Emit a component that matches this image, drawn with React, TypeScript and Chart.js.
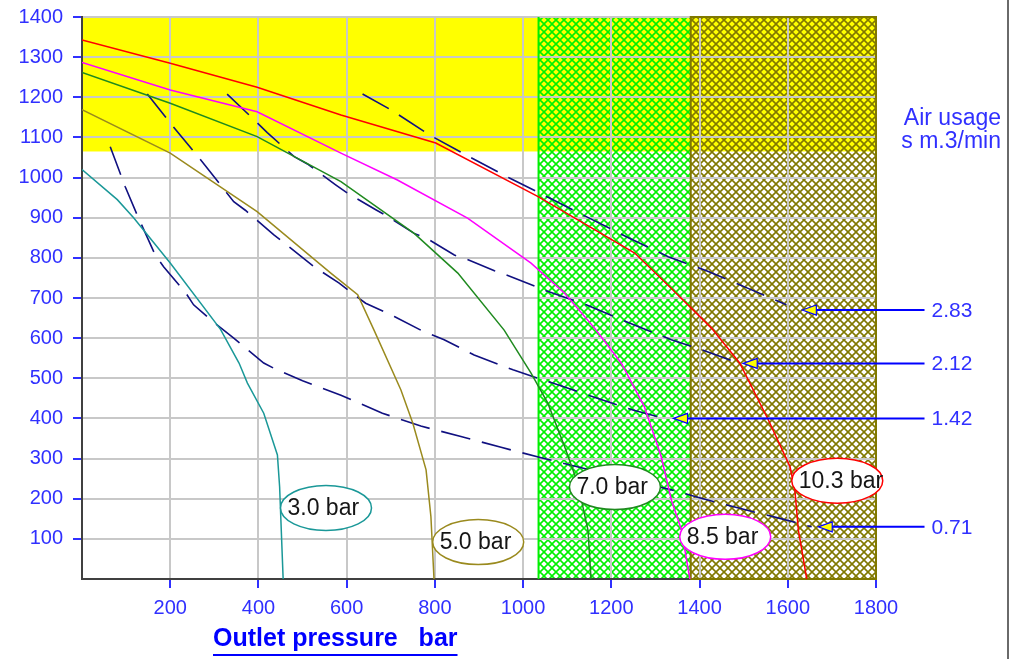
import React, { useEffect, useRef } from "react";
import { Chart, registerables } from "chart.js";

Chart.register(...registerables);

const FONT = '"Liberation Sans", Arial, Helvetica, sans-serif';

// ---- axes ----
const xTickValues = [200, 400, 600, 800, 1000, 1200, 1400, 1600, 1800];
const yTickValues = [100, 200, 300, 400, 500, 600, 700, 800, 900, 1000, 1100, 1200, 1300, 1400];
const xRange = [0, 1800];
const yRange = [0, 1400];

// ---- shaded zones ----
const yellowZoneY = [1065, 1400];
const greenZoneX = [1035, 1380];
const oliveZoneX = [1380, 1800];

// ---- pressure curves ----
const p30X = [0, 80, 117, 200, 314, 356, 375, 412, 443, 448, 456];
const p30Y = [1020, 945, 900, 787, 622, 538, 488, 413, 309, 230, 0];

const p50X = [0, 200, 397, 564, 625, 662, 723, 750, 780, 791, 798];
const p50Y = [1169, 1061, 915, 762, 708, 620, 471, 388, 272, 155, 0];

const p70X = [0, 200, 397, 587, 753, 852, 957, 1018, 1056, 1094, 1124, 1147, 1154];
const p70Y = [1262, 1185, 1102, 990, 861, 762, 620, 513, 438, 330, 238, 122, 0];

const p85X = [0, 200, 397, 587, 715, 874, 1018, 1094, 1162, 1223, 1275, 1313, 1336, 1359, 1378];
const p85Y = [1287, 1218, 1164, 1061, 994, 899, 787, 712, 625, 537, 429, 305, 197, 122, 0];

const p103X = [0, 200, 397, 587, 802, 1033, 1253, 1332, 1427, 1491, 1556, 1605, 1616, 1624, 1643];
const p103Y = [1343, 1285, 1225, 1156, 1086, 953, 812, 728, 625, 538, 396, 280, 222, 122, 0];

const curveNames = ["3.0 bar", "5.0 bar", "7.0 bar", "8.5 bar", "10.3 bar"];
const curveColors = ["#1a9898", "#9a8a1e", "#1f8a1f", "#ff00ff", "#ff0000"];
const labelLeftX = [450, 795, 1105, 1355, 1609];
const labelY = [177, 92, 229, 105, 245];

// ---- air usage (dashed) lines ----
const a071X = [64, 98, 125, 166, 185, 235, 253, 298, 344, 412, 435, 500, 587, 681, 768, 859, 950, 1041, 1132, 1336, 1404, 1491, 1582, 1654];
const a071Y = [1077, 977, 907, 807, 778, 713, 683, 640, 600, 538, 525, 494, 458, 413, 381, 355, 328, 302, 277, 222, 201, 176, 151, 130];

const a142X = [148, 200, 272, 344, 371, 435, 462, 526, 583, 617, 643, 708, 768, 821, 889, 977, 1067, 1158, 1249, 1321];
const a142Y = [1208, 1136, 1040, 940, 918, 857, 834, 778, 737, 708, 687, 654, 620, 596, 558, 521, 488, 454, 421, 400];

const a212X = [329, 394, 420, 481, 511, 575, 602, 666, 693, 753, 784, 844, 871, 935, 961, 1026, 1052, 1143, 1234, 1336, 1408, 1480];
const a212Y = [1208, 1140, 1112, 1052, 1034, 982, 961, 920, 903, 861, 847, 807, 797, 768, 758, 730, 718, 683, 641, 596, 570, 541];

const a283X = [636, 700, 791, 878, 969, 1060, 1150, 1241, 1329, 1420, 1510, 1597];
const a283Y = [1208, 1169, 1104, 1052, 999, 949, 899, 849, 803, 766, 724, 683];

const airLabels = ["2.83", "2.12", "1.42", "0.71"];
const airArrowY = [670, 537, 400, 130];
const airArrowTipX = [1633, 1499, 1341, 1669];
const airArrowEndX = 1910;
const airLabelX = 1926;

const TICK_BLUE = "#3030ff";

function pts(xs: number[], ys: number[]) {
  return xs.map((x, i) => ({ x, y: ys[i] }));
}

function makeHatch(ctx: CanvasRenderingContext2D, color: string) {
  const c = document.createElement("canvas");
  c.width = 8;
  c.height = 8;
  const g = c.getContext("2d") as CanvasRenderingContext2D;
  g.strokeStyle = color;
  g.lineWidth = 1.6;
  g.beginPath();
  g.moveTo(-2, -2);
  g.lineTo(10, 10);
  g.moveTo(10, -2);
  g.lineTo(-2, 10);
  g.stroke();
  return ctx.createPattern(c, "repeat");
}

const overlayPlugin = {
  id: "overlay",
  beforeDraw(chart: any) {
    const { ctx, scales } = chart;
    const xs = scales.x;
    const ys = scales.y;
    const x0 = xs.getPixelForValue(xRange[0]);
    const x1 = xs.getPixelForValue(xRange[1]);
    const yt = ys.getPixelForValue(yRange[1]);
    const yb = ys.getPixelForValue(yRange[0]);
    ctx.save();
    const yy0 = ys.getPixelForValue(yellowZoneY[1]);
    const yy1 = ys.getPixelForValue(yellowZoneY[0]);
    ctx.fillStyle = "#ffff00";
    ctx.fillRect(x0, yy0, x1 - x0, yy1 - yy0);
    const gx0 = xs.getPixelForValue(greenZoneX[0]);
    const gx1 = xs.getPixelForValue(greenZoneX[1]);
    ctx.fillStyle = makeHatch(ctx, "#00f000");
    ctx.fillRect(gx0, yt, gx1 - gx0, yb - yt);
    const ox0 = xs.getPixelForValue(oliveZoneX[0]);
    const ox1 = xs.getPixelForValue(oliveZoneX[1]);
    ctx.fillStyle = makeHatch(ctx, "#807800");
    ctx.fillRect(ox0, yt, ox1 - ox0, yb - yt);
    ctx.restore();
  },
  beforeDatasetsDraw(chart: any) {
    const { ctx, scales } = chart;
    const xs = scales.x;
    const ys = scales.y;
    const yt = ys.getPixelForValue(yRange[1]);
    const yb = ys.getPixelForValue(yRange[0]);
    ctx.save();
    ctx.lineWidth = 2;
    ctx.strokeStyle = "#00f000";
    const gx0 = xs.getPixelForValue(greenZoneX[0]);
    ctx.beginPath();
    ctx.moveTo(gx0, yt);
    ctx.lineTo(gx0, yb);
    ctx.stroke();
    ctx.strokeStyle = "#807800";
    const ox0 = xs.getPixelForValue(oliveZoneX[0]);
    const ox1 = xs.getPixelForValue(oliveZoneX[1]);
    ctx.strokeRect(ox0, yt, ox1 - ox0, yb - yt);
    ctx.restore();
  },
  afterDraw(chart: any) {
    const { ctx, scales } = chart;
    const xs = scales.x;
    const ys = scales.y;
    ctx.save();
    for (let i = 0; i < curveNames.length; i++) {
      const lx = xs.getPixelForValue(labelLeftX[i]);
      const cy = ys.getPixelForValue(labelY[i]);
      const rx = 45.5;
      const ry = 22.5;
      ctx.beginPath();
      ctx.ellipse(lx + rx, cy, rx, ry, 0, 0, Math.PI * 2);
      ctx.fillStyle = "#ffffff";
      ctx.fill();
      ctx.lineWidth = 1.5;
      ctx.strokeStyle = curveColors[i];
      ctx.stroke();
      ctx.fillStyle = "#151515";
      ctx.font = `23px ${FONT}`;
      ctx.textAlign = "left";
      ctx.textBaseline = "middle";
      ctx.fillText(curveNames[i], lx + 7, cy + 1);
    }
    for (let i = 0; i < airLabels.length; i++) {
      const tx = xs.getPixelForValue(airArrowTipX[i]);
      const ay = ys.getPixelForValue(airArrowY[i]);
      const ex = xs.getPixelForValue(airArrowEndX);
      ctx.strokeStyle = "#0000ff";
      ctx.lineWidth = 2;
      ctx.beginPath();
      ctx.moveTo(tx + 12, ay);
      ctx.lineTo(ex, ay);
      ctx.stroke();
      ctx.beginPath();
      ctx.moveTo(tx, ay);
      ctx.lineTo(tx + 14, ay - 5);
      ctx.lineTo(tx + 14, ay + 5);
      ctx.closePath();
      ctx.fillStyle = "#ffff00";
      ctx.fill();
      ctx.lineWidth = 1.2;
      ctx.stroke();
      ctx.fillStyle = TICK_BLUE;
      ctx.font = `21px ${FONT}`;
      ctx.textAlign = "left";
      ctx.textBaseline = "middle";
      ctx.fillText(airLabels[i], xs.getPixelForValue(airLabelX), ay + 1);
    }
    ctx.fillStyle = TICK_BLUE;
    ctx.font = `23px ${FONT}`;
    ctx.textAlign = "right";
    ctx.textBaseline = "alphabetic";
    ctx.fillText("Air usage", 1001, 125);
    ctx.fillText("s m.3/min", 1001, 148);
    ctx.fillStyle = "#0000ff";
    ctx.font = `bold 25px ${FONT}`;
    ctx.textAlign = "left";
    const title = "Outlet pressure   bar";
    ctx.fillText(title, 213, 646);
    const w = ctx.measureText(title).width;
    ctx.fillRect(213, 654, w, 2);
    ctx.restore();
  },
};

export default function App() {
  const ref = useRef<HTMLCanvasElement | null>(null);

  useEffect(() => {
    if (!ref.current) return;
    const dashed = (xs: number[], ys: number[]) => ({
      data: pts(xs, ys),
      borderColor: "#101080",
      borderWidth: 1.6,
      borderDash: [30, 12],
      pointRadius: 0,
      tension: 0,
      fill: false,
    });
    const solid = (xs: number[], ys: number[], color: string) => ({
      data: pts(xs, ys),
      borderColor: color,
      borderWidth: 1.5,
      pointRadius: 0,
      tension: 0,
      fill: false,
    });
    const fmt = (v: any) => String(v);
    const chart = new Chart(ref.current, {
      type: "line",
      data: {
        datasets: [
          solid(p30X, p30Y, curveColors[0]),
          solid(p50X, p50Y, curveColors[1]),
          solid(p70X, p70Y, curveColors[2]),
          solid(p85X, p85Y, curveColors[3]),
          solid(p103X, p103Y, curveColors[4]),
          dashed(a071X, a071Y),
          dashed(a142X, a142Y),
          dashed(a212X, a212Y),
          dashed(a283X, a283Y),
        ] as any,
      },
      options: {
        responsive: false,
        animation: false,
        events: [],
        layout: { padding: { left: 0, top: 17, right: 134, bottom: 0 } },
        plugins: { legend: { display: false }, tooltip: { enabled: false } },
        scales: {
          x: {
            type: "linear",
            min: xRange[0],
            max: xRange[1],
            afterBuildTicks: (s: any) => {
              s.ticks = xTickValues.map((v) => ({ value: v }));
            },
            afterFit: (s: any) => {
              s.height = 80;
              s.paddingLeft = 0;
              s.paddingRight = 0;
            },
            grid: {
              color: "#c8c8c8",
              lineWidth: 2,
              tickColor: TICK_BLUE,
              tickLength: 9,
              tickWidth: 2,
            },
            border: { color: "#404040", width: 2 },
            ticks: {
              color: TICK_BLUE,
              font: { family: FONT, size: 20 },
              padding: 8,
              maxRotation: 0,
              autoSkip: false,
              callback: fmt,
            },
          },
          y: {
            type: "linear",
            min: yRange[0],
            max: yRange[1],
            afterBuildTicks: (s: any) => {
              s.ticks = yTickValues.map((v) => ({ value: v }));
            },
            afterFit: (s: any) => {
              s.width = 82;
              s.paddingTop = 0;
              s.paddingBottom = 0;
            },
            grid: {
              color: "#c8c8c8",
              lineWidth: 2,
              tickColor: TICK_BLUE,
              tickLength: 9,
              tickWidth: 2,
            },
            border: { color: "#404040", width: 2 },
            ticks: {
              color: TICK_BLUE,
              font: { family: FONT, size: 20 },
              padding: 10,
              autoSkip: false,
              callback: fmt,
            },
          },
        },
      } as any,
      plugins: [overlayPlugin as any],
    });
    return () => chart.destroy();
  }, []);

  return (
    <div style={{ position: "absolute", left: 0, top: 0, width: 1010, height: 659, background: "#fff" }}>
      <canvas ref={ref} width={1010} height={659} style={{ display: "block", width: 1010, height: 659 }} />
      <div style={{ position: "absolute", left: 1007, top: 0, width: 2, height: 659, background: "#6a6a6a" }} />
    </div>
  );
}
